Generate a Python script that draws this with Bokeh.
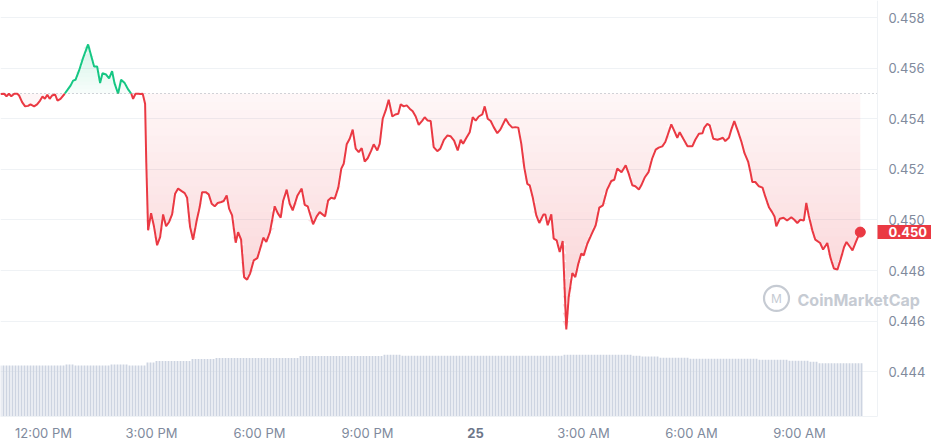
from datetime import datetime, timedelta
import numpy as np
from bokeh.plotting import figure
from bokeh.models import (Range1d, FixedTicker, Span, Label, PrintfTickFormatter,
                          DatetimeAxis, Grid)
from bokeh.embed import file_html
from bokeh.resources import INLINE

# ---------------- data ----------------
start = datetime(2024, 3, 24, 10, 48, 20)   # first sample
baseline = 0.455                              # opening price (dotted reference)

minutes = [0, 6, 10, 14, 18, 23, 28, 31, 36, 41, 46, 50, 56, 61, 66, 70, 74, 78, 82, 86,
           91, 95, 100, 106, 111, 117, 121, 125, 131, 138, 146, 151, 156, 161, 166, 170, 176, 181, 186, 190,
           196, 201, 207, 213, 218, 221, 225, 230, 233, 237, 241, 243, 246, 251, 256, 261, 266, 271, 276, 281,
           286, 291, 296, 302, 307, 311, 316, 321, 327, 332, 336, 342, 347, 352, 357, 362, 368, 372, 377, 381,
           386, 392, 396, 401, 406, 411, 416, 422, 428, 432, 438, 443, 449, 457, 462, 467, 471, 477, 482, 487,
           495, 502, 507, 512, 521, 527, 532, 541, 546, 551, 557, 563, 568, 572, 577, 582, 587, 592, 597, 602,
           607, 612, 618, 622, 628, 632, 637, 642, 647, 653, 658, 663, 667, 672, 677, 682, 687, 692, 697, 703,
           707, 712, 717, 722, 728, 733, 739, 745, 750, 756, 762, 767, 771, 777, 782, 787, 792, 797, 803, 807,
           812, 817, 822, 828, 833, 842, 847, 853, 858, 863, 868, 873, 878, 882, 887, 893, 898, 905, 908, 912,
           918, 922, 927, 932, 937, 943, 947, 953, 958, 963, 968, 972, 978, 985, 992, 998, 1004, 1011, 1018, 1023,
           1028, 1035, 1042, 1047, 1053, 1058, 1064, 1068, 1074, 1080, 1086, 1092, 1097, 1103, 1108, 1118, 1122, 1128, 1132, 1138,
           1145, 1153, 1158, 1164, 1170, 1173, 1178, 1182, 1188, 1195, 1200, 1204, 1208, 1214, 1218, 1223, 1229, 1235, 1240, 1246,
           1250, 1253, 1258, 1264, 1270, 1275, 1281, 1286, 1290, 1293, 1299, 1305, 1311, 1318, 1323, 1328, 1333, 1339, 1343, 1347,
           1353, 1358, 1366, 1371, 1378, 1383, 1389, 1395, 1400, 1406, 1410, 1416, 1420, 1425, 1429, 1433]

price = [0.45498, 0.45499, 0.45489, 0.45499, 0.45489, 0.45499, 0.45499, 0.45492, 0.45466, 0.45449,
         0.45451, 0.45457, 0.45449, 0.45457, 0.45472, 0.45488, 0.45479, 0.45495, 0.45479, 0.45492,
         0.45496, 0.45472, 0.45479, 0.45496, 0.45512, 0.45532, 0.45551, 0.45554, 0.45591, 0.45643,
         0.45694, 0.45650, 0.45607, 0.45607, 0.45541, 0.45580, 0.45575, 0.45560, 0.45588, 0.45541,
         0.45499, 0.45554, 0.45541, 0.45515, 0.45499, 0.45479, 0.45499, 0.45499, 0.45498, 0.45499,
         0.45459, 0.45224, 0.44959, 0.45027, 0.44972, 0.44900, 0.44932, 0.45022, 0.44975, 0.44992,
         0.45022, 0.45104, 0.45124, 0.45114, 0.45106, 0.45088, 0.44972, 0.44922, 0.44998, 0.45051,
         0.45110, 0.45110, 0.45101, 0.45064, 0.45054, 0.45067, 0.45071, 0.45075, 0.45097, 0.45045,
         0.45018, 0.44910, 0.44952, 0.44922, 0.44774, 0.44764, 0.44788, 0.44840, 0.44849, 0.44880,
         0.44930, 0.44913, 0.44952, 0.45054, 0.45027, 0.45009, 0.45075, 0.45120, 0.45064, 0.45038,
         0.45097, 0.45124, 0.45060, 0.45054, 0.44983, 0.45014, 0.45031, 0.45014, 0.45077, 0.45088,
         0.45084, 0.45128, 0.45203, 0.45222, 0.45299, 0.45321, 0.45357, 0.45282, 0.45268, 0.45284,
         0.45231, 0.45244, 0.45275, 0.45299, 0.45275, 0.45301, 0.45400, 0.45433, 0.45475, 0.45409,
         0.45417, 0.45420, 0.45457, 0.45449, 0.45453, 0.45440, 0.45430, 0.45409, 0.45376, 0.45393,
         0.45406, 0.45393, 0.45391, 0.45288, 0.45272, 0.45282, 0.45317, 0.45334, 0.45331, 0.45314,
         0.45275, 0.45317, 0.45301, 0.45327, 0.45347, 0.45406, 0.45393, 0.45409, 0.45417, 0.45449,
         0.45400, 0.45391, 0.45367, 0.45343, 0.45357, 0.45400, 0.45380, 0.45365, 0.45367, 0.45365,
         0.45301, 0.45207, 0.45143, 0.45137, 0.45090, 0.45018, 0.44988, 0.45022, 0.45022, 0.44979,
         0.45022, 0.44926, 0.44919, 0.44873, 0.44917, 0.44567, 0.44695, 0.44790, 0.44774, 0.44827,
         0.44867, 0.44860, 0.44906, 0.44943, 0.44979, 0.45049, 0.45058, 0.45120, 0.45154, 0.45159,
         0.45203, 0.45189, 0.45216, 0.45183, 0.45137, 0.45133, 0.45120, 0.45137, 0.45169, 0.45189,
         0.45242, 0.45278, 0.45286, 0.45291, 0.45308, 0.45378, 0.45357, 0.45325, 0.45347, 0.45321,
         0.45291, 0.45291, 0.45317, 0.45341, 0.45343, 0.45365, 0.45380, 0.45374, 0.45321, 0.45317,
         0.45321, 0.45325, 0.45312, 0.45325, 0.45357, 0.45391, 0.45351, 0.45308, 0.45264, 0.45231,
         0.45188, 0.45150, 0.45150, 0.45133, 0.45128, 0.45090, 0.45049, 0.45031, 0.45014, 0.44975,
         0.45005, 0.45009, 0.44998, 0.45011, 0.45001, 0.44988, 0.45001, 0.44998, 0.45067, 0.45018,
         0.44959, 0.44922, 0.44909, 0.44883, 0.44909, 0.44853, 0.44808, 0.44804, 0.44843, 0.44893,
         0.44913, 0.44893, 0.44880, 0.44909, 0.44932, 0.44952]

# 24h volume, one bar every 5 minutes (arbitrary units, read as bar heights)
volume = [
    5.1, 5.1, 5.1, 5.1, 5.1, 5.1, 5.1, 5.1, 5.1, 5.1, 5.1, 5.1,
    5.1, 5.1, 5.1, 5.1, 5.1, 5.1, 5.1, 5.1, 5.1, 5.1, 5.2, 5.2,
    5.2, 5.1, 5.1, 5.1, 5.1, 5.1, 5.1, 5.1, 5.1, 5.1, 5.1, 5.1,
    5.1, 5.2, 5.2, 5.2, 5.2, 5.2, 5.2, 5.1, 5.1, 5.1, 5.1, 5.1,
    5.1, 5.4, 5.4, 5.4, 5.55, 5.55, 5.55, 5.55, 5.55, 5.55, 5.55, 5.55,
    5.55, 5.55, 5.55, 5.55, 5.75, 5.75, 5.75, 5.75, 5.75, 5.75, 5.75, 5.75,
    5.85, 5.85, 5.85, 5.85, 5.85, 5.85, 5.85, 5.85, 5.85, 5.85, 5.85, 5.85,
    5.85, 5.85, 5.85, 5.85, 5.85, 5.85, 5.85, 5.85, 5.85, 5.85, 5.85, 5.85,
    5.85, 5.85, 5.85, 5.85, 6.05, 6.05, 6.05, 6.05, 6.05, 6.05, 6.05, 6.05,
    6.05, 6.05, 6.05, 6.05, 6.05, 6.05, 6.05, 6.05, 6.05, 6.05, 6.05, 6.05,
    6.05, 6.05, 6.05, 6.05, 6.05, 6.05, 6.05, 6.05, 6.17, 6.17, 6.17, 6.17,
    6.17, 6.17, 6.07, 6.07, 6.07, 6.07, 6.07, 6.07, 6.07, 6.07, 6.07, 6.07,
    6.07, 6.07, 6.07, 6.07, 6.07, 6.07, 6.07, 6.07, 6.07, 6.07, 6.07, 6.07,
    6.07, 6.07, 6.07, 6.07, 6.07, 6.07, 6.07, 6.07, 6.07, 6.07, 6.07, 6.07,
    6.07, 6.07, 6.07, 6.07, 6.07, 6.07, 6.07, 6.07, 6.07, 6.07, 6.07, 6.07,
    6.07, 6.07, 6.07, 6.07, 6.07, 6.07, 6.07, 6.07, 6.17, 6.17, 6.17, 6.17,
    6.17, 6.17, 6.17, 6.17, 6.17, 6.17, 6.17, 6.17, 6.17, 6.17, 6.17, 6.17,
    6.17, 6.17, 6.17, 6.17, 6.17, 6.17, 6.17, 6.07, 6.07, 6.07, 6.0, 6.0,
    6.0, 6.0, 6.0, 6.0, 5.87, 5.87, 5.87, 5.87, 5.87, 5.87, 5.87, 5.87,
    5.87, 5.87, 5.77, 5.77, 5.77, 5.77, 5.77, 5.77, 5.77, 5.77, 5.77, 5.77,
    5.77, 5.77, 5.77, 5.77, 5.77, 5.77, 5.77, 5.77, 5.77, 5.77, 5.77, 5.77,
    5.77, 5.67, 5.67, 5.67, 5.67, 5.67, 5.67, 5.67, 5.67, 5.67, 5.67, 5.57,
    5.57, 5.57, 5.57, 5.57, 5.57, 5.57, 5.47, 5.47, 5.47, 5.33, 5.33, 5.33,
    5.33, 5.33, 5.33, 5.33, 5.33, 5.33, 5.33, 5.33, 5.33, 5.33, 5.33, 5.33,
]
volume_step_min = 5

tick_times = [datetime(2024, 3, 24, 12), datetime(2024, 3, 24, 15), datetime(2024, 3, 24, 18),
              datetime(2024, 3, 24, 21), datetime(2024, 3, 25, 0), datetime(2024, 3, 25, 3),
              datetime(2024, 3, 25, 6), datetime(2024, 3, 25, 9)]
tick_labels = ["12:00 PM", "3:00 PM", "6:00 PM", "9:00 PM", "25", "3:00 AM", "6:00 AM", "9:00 AM"]
bold_tick_label = "25"
price_ticks = [0.444, 0.446, 0.448, 0.450, 0.452, 0.454, 0.456, 0.458]

assert len(minutes) == len(price)

# ---------------- helpers ----------------
EPOCH = datetime(1970, 1, 1)


def to_ms(dt):
    return (dt - EPOCH).total_seconds() * 1000.0


RED = "#ea3943"
GREEN = "#16c784"
AXIS_TEXT = "#808a9d"
GRID = "#eff2f5"
FONT = "Inter"
WM = "#c6cbd3"

t_ms = np.array([to_ms(start + timedelta(minutes=m)) for m in minutes])
p_arr = np.array(price)

# insert baseline crossings so that the line can switch colour exactly there
xs, ys = [], []
for i in range(len(p_arr) - 1):
    xs.append(t_ms[i]); ys.append(p_arr[i])
    a, b = p_arr[i] - baseline, p_arr[i + 1] - baseline
    if a * b < 0:
        f = (baseline - p_arr[i]) / (p_arr[i + 1] - p_arr[i])
        xs.append(t_ms[i] + f * (t_ms[i + 1] - t_ms[i])); ys.append(baseline)
xs.append(t_ms[-1]); ys.append(p_arr[-1])
xs = np.array(xs); ys = np.array(ys)
red_y = np.where(ys <= baseline, ys, np.nan)
green_y = np.where(ys >= baseline, ys, np.nan)

# time window: the plotting area ends a little after the last sample,
# the price scale sits to the right of it (inside the canvas)
x_start = to_ms(start)
x_plot_end = to_ms(start + timedelta(seconds=87700))
x_canvas_end = to_ms(start + timedelta(seconds=93100))
y_lo, y_hi = 0.44223, 0.458676

p = figure(width=931, height=445, x_axis_type="datetime",
           x_range=Range1d(x_start, x_canvas_end), y_range=Range1d(y_lo, y_hi),
           y_axis_location="right", output_backend="svg", toolbar_location=None,
           min_border_left=0, min_border_top=0, min_border_right=0, min_border_bottom=29)
p.outline_line_color = None
p.background_fill_color = "white"
p.border_fill_color = "white"

# horizontal grid, limited to the plotting area
if "cross_bounds" in Grid.properties():
    p.ygrid[0].cross_bounds = (x_start, x_plot_end)
    p.ygrid.grid_line_color = GRID
else:
    p.ygrid.visible = False
    p.segment(x0=x_start, x1=x_plot_end, y0=price_ticks, y1=price_ticks, line_color=GRID, line_width=1)
p.xgrid.visible = False

# right border of the plotting area
p.add_layout(Span(location=x_plot_end, dimension="height", line_color=GRID, line_width=1))

# volume bars on their own scale
p.extra_y_ranges = {"vol": Range1d(0, 41.6)}
bar_x = [to_ms(start + timedelta(minutes=volume_step_min * i)) for i in range(len(volume))]
p.vbar(x=bar_x, top=volume, bottom=0, width=volume_step_min * 60 * 1000 * 0.62,
       y_range_name="vol", fill_color="#cdd4e1", line_color=None)

# gradient fills between price and baseline (banded)
nb = 28
lo_levels = np.linspace(baseline, p_arr.min(), nb + 1)
for k in range(nb):
    hi, lo = lo_levels[k], lo_levels[k + 1]
    y1 = np.minimum(np.maximum(ys, lo), hi)
    alpha = 0.04 + 0.20 * (k + 0.5) / nb
    p.varea(x=xs, y1=y1, y2=np.full_like(ys, hi), fill_color=RED, fill_alpha=alpha)
hi_levels = np.linspace(baseline, p_arr.max(), 13)
for k in range(12):
    lo, hi = hi_levels[k], hi_levels[k + 1]
    y2 = np.minimum(np.maximum(ys, lo), hi)
    alpha = 0.03 + 0.16 * (k + 0.5) / 12
    p.varea(x=xs, y1=np.full_like(ys, lo), y2=y2, fill_color=GREEN, fill_alpha=alpha)

# opening-price reference (dotted), across the plotting area
p.line([x_start, x_plot_end], [baseline, baseline], line_color="#a3a9b3",
       line_dash="1 3", line_width=1.2)

p.line(xs, red_y, line_color=RED, line_width=2)
p.line(xs, green_y, line_color=GREEN, line_width=2)
p.scatter([t_ms[-1]], [p_arr[-1]], size=10, fill_color=RED, line_color=RED)

# ---------------- axes ----------------
tick_ms = [to_ms(t) for t in tick_times]
xa = p.xaxis[0]
xa.ticker = FixedTicker(ticks=tick_ms)
xa.major_label_overrides = {tm: ("" if lab == bold_tick_label else lab) for tm, lab in zip(tick_ms, tick_labels)}
xa.bounds = (x_start, x_plot_end)
xa.major_label_standoff = 8

ya = p.yaxis[0]
ya.ticker = FixedTicker(ticks=price_ticks)
ya.formatter = PrintfTickFormatter(format="%.3f")
ya.major_label_standoff = -(931 - 888)       # labels drawn back over the right strip
ya.axis_line_color = None

for ax in (xa, ya):
    ax.major_tick_line_color = None
    ax.minor_tick_line_color = None
    ax.major_tick_out = 0
    ax.major_tick_in = 0
    ax.major_label_text_color = AXIS_TEXT
    ax.major_label_text_font = FONT
    ax.major_label_text_font_size = "13px"
xa.axis_line_color = GRID

# second (overlaid) time axis carrying the bold day label
day_ticks = [tm for tm, lab in zip(tick_ms, tick_labels) if lab == bold_tick_label]
da = DatetimeAxis(ticker=FixedTicker(ticks=day_ticks),
                  major_label_overrides={tm: bold_tick_label for tm in day_ticks})
da.axis_line_color = None
da.major_tick_line_color = None
da.minor_tick_line_color = None
da.major_tick_out = 0
da.major_tick_in = 0
da.major_label_text_color = "#6c7689"
da.major_label_text_font = FONT
da.major_label_text_font_size = "13px"
da.major_label_text_font_style = "bold"
da.major_label_standoff = -16
p.add_layout(da, "below")

# current price tag (box starts at the plot edge, text inset by the padding)
p.add_layout(Label(x=x_plot_end, y=p_arr[-1], x_offset=0, text=f"{p_arr[-1]:.3f}",
                   text_align="left", text_baseline="middle", text_font=FONT,
                   text_font_size="13px", text_font_style="bold", text_color="white",
                   background_fill_color=RED,
                   padding=dict(left=11, right=8, top=2, bottom=2)))

# watermark
wm_x = to_ms(start + timedelta(seconds=79700))
logo_x = to_ms(start + timedelta(seconds=77600))
p.scatter([logo_x], [0.44690], marker="circle", size=25, fill_color=None,
          line_color=WM, line_width=2.2)
p.add_layout(Label(x=logo_x, y=0.44690, text="M", text_align="center", text_baseline="middle",
                   text_font=FONT, text_font_size="12px", text_color=WM))
p.add_layout(Label(x=wm_x, y=0.44682, text="CoinMarketCap", text_align="left",
                   text_baseline="middle", text_font=FONT, text_font_size="16px",
                   text_font_style="bold", text_color=WM))

open("out.html", "w").write(file_html(p, INLINE))
